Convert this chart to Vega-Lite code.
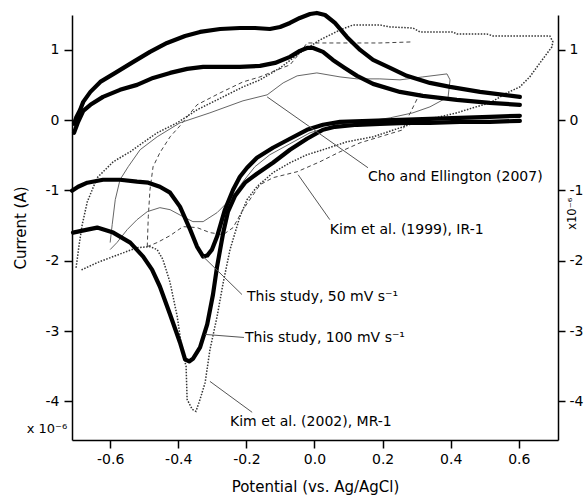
{
  "$schema": "https://vega.github.io/schema/vega-lite/v6.json",
  "width": 486,
  "height": 425,
  "autosize": {"type": "none"},
  "padding": {"left": 72, "top": 15, "right": 26, "bottom": 58},
  "config": {
    "view": {"stroke": null},
    "font": "DejaVu Sans",
    "text": {"font": "DejaVu Sans"},
    "axis": {
      "grid": false,
      "domainColor": "#000",
      "domainWidth": 1.5,
      "tickColor": "#000",
      "tickWidth": 1.5,
      "tickSize": 8,
      "labelColor": "#000",
      "labelFont": "DejaVu Sans",
      "labelFontSize": 14,
      "labelPadding": 4,
      "labelFlush": false,
      "labelOverlap": false,
      "titleFont": "DejaVu Sans",
      "titleFontSize": 15,
      "titleFontWeight": "normal",
      "titleColor": "#000"
    }
  },
  "datasets": {
    "curves": [
      {"s":"t100u","i":0,"x":-0.706,"y":-0.051},{"s":"t100u","i":1,"x":-0.700,"y":0.034},{"s":"t100u","i":2,"x":-0.688,"y":0.148},{"s":"t100u","i":3,"x":-0.679,"y":0.261},{"s":"t100u","i":4,"x":-0.658,"y":0.403},{"s":"t100u","i":5,"x":-0.629,"y":0.545},{"s":"t100u","i":6,"x":-0.585,"y":0.673},{"s":"t100u","i":7,"x":-0.532,"y":0.830},{"s":"t100u","i":8,"x":-0.483,"y":0.972},{"s":"t100u","i":9,"x":-0.433,"y":1.099},{"s":"t100u","i":10,"x":-0.380,"y":1.199},{"s":"t100u","i":11,"x":-0.336,"y":1.256},{"s":"t100u","i":12,"x":-0.277,"y":1.298},{"s":"t100u","i":13,"x":-0.219,"y":1.312},{"s":"t100u","i":14,"x":-0.175,"y":1.312},{"s":"t100u","i":15,"x":-0.131,"y":1.298},{"s":"t100u","i":16,"x":-0.101,"y":1.327},{"s":"t100u","i":17,"x":-0.072,"y":1.384},{"s":"t100u","i":18,"x":-0.043,"y":1.455},{"s":"t100u","i":19,"x":-0.013,"y":1.511},{"s":"t100u","i":20,"x":0.007,"y":1.526},{"s":"t100u","i":21,"x":0.031,"y":1.497},{"s":"t100u","i":22,"x":0.060,"y":1.384},{"s":"t100u","i":23,"x":0.095,"y":1.185},{"s":"t100u","i":24,"x":0.134,"y":1.000},{"s":"t100u","i":25,"x":0.172,"y":0.858},{"s":"t100u","i":26,"x":0.222,"y":0.744},{"s":"t100u","i":27,"x":0.271,"y":0.631},{"s":"t100u","i":28,"x":0.339,"y":0.531},{"s":"t100u","i":29,"x":0.398,"y":0.474},{"s":"t100u","i":30,"x":0.486,"y":0.403},{"s":"t100u","i":31,"x":0.603,"y":0.332},

      {"s":"t50u","i":0,"x":-0.706,"y":-0.179},{"s":"t50u","i":1,"x":-0.694,"y":-0.023},{"s":"t50u","i":2,"x":-0.679,"y":0.134},{"s":"t50u","i":3,"x":-0.658,"y":0.219},{"s":"t50u","i":4,"x":-0.621,"y":0.332},{"s":"t50u","i":5,"x":-0.571,"y":0.432},{"s":"t50u","i":6,"x":-0.521,"y":0.503},{"s":"t50u","i":7,"x":-0.474,"y":0.602},{"s":"t50u","i":8,"x":-0.424,"y":0.673},{"s":"t50u","i":9,"x":-0.374,"y":0.730},{"s":"t50u","i":10,"x":-0.327,"y":0.759},{"s":"t50u","i":11,"x":-0.277,"y":0.759},{"s":"t50u","i":12,"x":-0.219,"y":0.759},{"s":"t50u","i":13,"x":-0.160,"y":0.773},{"s":"t50u","i":14,"x":-0.116,"y":0.815},{"s":"t50u","i":15,"x":-0.072,"y":0.901},{"s":"t50u","i":16,"x":-0.043,"y":0.986},{"s":"t50u","i":17,"x":-0.022,"y":1.028},{"s":"t50u","i":18,"x":-0.004,"y":1.028},{"s":"t50u","i":19,"x":0.025,"y":0.972},{"s":"t50u","i":20,"x":0.054,"y":0.858},{"s":"t50u","i":21,"x":0.089,"y":0.744},{"s":"t50u","i":22,"x":0.125,"y":0.631},{"s":"t50u","i":23,"x":0.172,"y":0.517},{"s":"t50u","i":24,"x":0.251,"y":0.403},{"s":"t50u","i":25,"x":0.318,"y":0.347},{"s":"t50u","i":26,"x":0.418,"y":0.290},{"s":"t50u","i":27,"x":0.515,"y":0.247},{"s":"t50u","i":28,"x":0.603,"y":0.219},

      {"s":"t50l","i":0,"x":0.603,"y":0.063},{"s":"t50l","i":1,"x":0.515,"y":0.048},{"s":"t50l","i":2,"x":0.427,"y":0.034},{"s":"t50l","i":3,"x":0.339,"y":0.020},{"s":"t50l","i":4,"x":0.251,"y":0.006},{"s":"t50l","i":5,"x":0.163,"y":-0.009},{"s":"t50l","i":6,"x":0.075,"y":-0.023},{"s":"t50l","i":7,"x":0.025,"y":-0.065},{"s":"t50l","i":8,"x":-0.022,"y":-0.136},{"s":"t50l","i":9,"x":-0.072,"y":-0.264},{"s":"t50l","i":10,"x":-0.122,"y":-0.392},{"s":"t50l","i":11,"x":-0.169,"y":-0.534},{"s":"t50l","i":12,"x":-0.198,"y":-0.676},{"s":"t50l","i":13,"x":-0.219,"y":-0.804},{"s":"t50l","i":14,"x":-0.239,"y":-0.989},{"s":"t50l","i":15,"x":-0.263,"y":-1.273},{"s":"t50l","i":16,"x":-0.286,"y":-1.656},{"s":"t50l","i":17,"x":-0.301,"y":-1.841},{"s":"t50l","i":18,"x":-0.315,"y":-1.926},{"s":"t50l","i":19,"x":-0.327,"y":-1.940},{"s":"t50l","i":20,"x":-0.345,"y":-1.798},{"s":"t50l","i":21,"x":-0.365,"y":-1.557},{"s":"t50l","i":22,"x":-0.395,"y":-1.230},{"s":"t50l","i":23,"x":-0.424,"y":-1.031},{"s":"t50l","i":24,"x":-0.454,"y":-0.946},{"s":"t50l","i":25,"x":-0.488,"y":-0.889},{"s":"t50l","i":26,"x":-0.521,"y":-0.875},{"s":"t50l","i":27,"x":-0.571,"y":-0.847},{"s":"t50l","i":28,"x":-0.621,"y":-0.847},{"s":"t50l","i":29,"x":-0.667,"y":-0.889},{"s":"t50l","i":30,"x":-0.694,"y":-0.946},{"s":"t50l","i":31,"x":-0.712,"y":-1.003},

      {"s":"t100l","i":0,"x":0.603,"y":-0.009},{"s":"t100l","i":1,"x":0.515,"y":-0.023},{"s":"t100l","i":2,"x":0.427,"y":-0.023},{"s":"t100l","i":3,"x":0.339,"y":-0.037},{"s":"t100l","i":4,"x":0.271,"y":-0.037},{"s":"t100l","i":5,"x":0.192,"y":-0.051},{"s":"t100l","i":6,"x":0.125,"y":-0.065},{"s":"t100l","i":7,"x":0.060,"y":-0.094},{"s":"t100l","i":8,"x":0.025,"y":-0.136},{"s":"t100l","i":9,"x":-0.022,"y":-0.264},{"s":"t100l","i":10,"x":-0.072,"y":-0.420},{"s":"t100l","i":11,"x":-0.122,"y":-0.605},{"s":"t100l","i":12,"x":-0.169,"y":-0.761},{"s":"t100l","i":13,"x":-0.204,"y":-0.889},{"s":"t100l","i":14,"x":-0.233,"y":-1.074},{"s":"t100l","i":15,"x":-0.254,"y":-1.301},{"s":"t100l","i":16,"x":-0.268,"y":-1.599},{"s":"t100l","i":17,"x":-0.286,"y":-2.082},{"s":"t100l","i":18,"x":-0.298,"y":-2.480},{"s":"t100l","i":19,"x":-0.315,"y":-2.906},{"s":"t100l","i":20,"x":-0.336,"y":-3.233},{"s":"t100l","i":21,"x":-0.357,"y":-3.395},{"s":"t100l","i":22,"x":-0.368,"y":-3.432},{"s":"t100l","i":23,"x":-0.380,"y":-3.403},{"s":"t100l","i":24,"x":-0.395,"y":-3.162},{"s":"t100l","i":25,"x":-0.424,"y":-2.764},{"s":"t100l","i":26,"x":-0.454,"y":-2.366},{"s":"t100l","i":27,"x":-0.477,"y":-2.125},{"s":"t100l","i":28,"x":-0.503,"y":-1.940},{"s":"t100l","i":29,"x":-0.541,"y":-1.741},{"s":"t100l","i":30,"x":-0.591,"y":-1.599},{"s":"t100l","i":31,"x":-0.638,"y":-1.528},{"s":"t100l","i":32,"x":-0.667,"y":-1.557},{"s":"t100l","i":33,"x":-0.709,"y":-1.599},

      {"s":"cho","i":0,"x":-0.600,"y":-1.741},{"s":"cho","i":1,"x":-0.594,"y":-1.486},{"s":"cho","i":2,"x":-0.585,"y":-1.131},{"s":"cho","i":3,"x":-0.571,"y":-0.847},{"s":"cho","i":4,"x":-0.547,"y":-0.662},{"s":"cho","i":5,"x":-0.512,"y":-0.420},{"s":"cho","i":6,"x":-0.462,"y":-0.236},{"s":"cho","i":7,"x":-0.395,"y":-0.037},{"s":"cho","i":8,"x":-0.307,"y":0.105},{"s":"cho","i":9,"x":-0.210,"y":0.276},{"s":"cho","i":10,"x":-0.139,"y":0.361},{"s":"cho","i":11,"x":-0.092,"y":0.531},{"s":"cho","i":12,"x":-0.051,"y":0.631},{"s":"cho","i":13,"x":0.007,"y":0.673},{"s":"cho","i":14,"x":0.075,"y":0.616},{"s":"cho","i":15,"x":0.125,"y":0.588},{"s":"cho","i":16,"x":0.192,"y":0.588},{"s":"cho","i":17,"x":0.251,"y":0.574},{"s":"cho","i":18,"x":0.318,"y":0.616},{"s":"cho","i":19,"x":0.389,"y":0.659},{"s":"cho","i":20,"x":0.398,"y":0.574},{"s":"cho","i":21,"x":0.392,"y":0.318},{"s":"cho","i":22,"x":0.377,"y":0.290},{"s":"cho","i":23,"x":0.339,"y":0.190},{"s":"cho","i":24,"x":0.289,"y":0.105},{"s":"cho","i":25,"x":0.222,"y":0.034},{"s":"cho","i":26,"x":0.163,"y":-0.009},{"s":"cho","i":27,"x":0.075,"y":-0.051},{"s":"cho","i":28,"x":-0.013,"y":-0.179},{"s":"cho","i":29,"x":-0.072,"y":-0.335},{"s":"cho","i":30,"x":-0.131,"y":-0.491},{"s":"cho","i":31,"x":-0.175,"y":-0.662},{"s":"cho","i":32,"x":-0.210,"y":-0.875},{"s":"cho","i":33,"x":-0.248,"y":-1.131},{"s":"cho","i":34,"x":-0.286,"y":-1.315},{"s":"cho","i":35,"x":-0.327,"y":-1.443},{"s":"cho","i":36,"x":-0.357,"y":-1.443},{"s":"cho","i":37,"x":-0.386,"y":-1.372},{"s":"cho","i":38,"x":-0.424,"y":-1.273},{"s":"cho","i":39,"x":-0.454,"y":-1.244},{"s":"cho","i":40,"x":-0.491,"y":-1.301},{"s":"cho","i":41,"x":-0.521,"y":-1.415},{"s":"cho","i":42,"x":-0.550,"y":-1.557},{"s":"cho","i":43,"x":-0.580,"y":-1.741},{"s":"cho","i":44,"x":-0.600,"y":-1.841},

      {"s":"kim99u","i":0,"x":-0.491,"y":-1.798},{"s":"kim99u","i":1,"x":-0.488,"y":-1.372},{"s":"kim99u","i":2,"x":-0.483,"y":-0.989},{"s":"kim99u","i":3,"x":-0.474,"y":-0.662},{"s":"kim99u","i":4,"x":-0.454,"y":-0.463},{"s":"kim99u","i":5,"x":-0.424,"y":-0.236},{"s":"kim99u","i":6,"x":-0.395,"y":-0.080},{"s":"kim99u","i":7,"x":-0.345,"y":0.219},{"s":"kim99u","i":8,"x":-0.277,"y":0.389},{"s":"kim99u","i":9,"x":-0.210,"y":0.545},{"s":"kim99u","i":10,"x":-0.160,"y":0.616},{"s":"kim99u","i":11,"x":-0.110,"y":0.716},{"s":"kim99u","i":12,"x":-0.072,"y":0.787},{"s":"kim99u","i":13,"x":-0.043,"y":0.957},{"s":"kim99u","i":14,"x":-0.022,"y":1.099},{"s":"kim99u","i":15,"x":0.075,"y":1.099},{"s":"kim99u","i":16,"x":0.192,"y":1.099},{"s":"kim99u","i":17,"x":0.286,"y":1.114},

      {"s":"kim99l","i":0,"x":0.310,"y":0.389},{"s":"kim99l","i":1,"x":0.274,"y":0.034},{"s":"kim99l","i":2,"x":0.260,"y":-0.136},{"s":"kim99l","i":3,"x":0.192,"y":-0.236},{"s":"kim99l","i":4,"x":0.134,"y":-0.321},{"s":"kim99l","i":5,"x":0.075,"y":-0.449},{"s":"kim99l","i":6,"x":0.016,"y":-0.591},{"s":"kim99l","i":7,"x":-0.051,"y":-0.733},{"s":"kim99l","i":8,"x":-0.122,"y":-0.818},{"s":"kim99l","i":9,"x":-0.160,"y":-0.918},{"s":"kim99l","i":10,"x":-0.210,"y":-1.273},{"s":"kim99l","i":11,"x":-0.239,"y":-1.528},{"s":"kim99l","i":12,"x":-0.268,"y":-1.628},{"s":"kim99l","i":13,"x":-0.307,"y":-1.599},{"s":"kim99l","i":14,"x":-0.345,"y":-1.528},{"s":"kim99l","i":15,"x":-0.386,"y":-1.514},{"s":"kim99l","i":16,"x":-0.424,"y":-1.642},{"s":"kim99l","i":17,"x":-0.462,"y":-1.741},{"s":"kim99l","i":18,"x":-0.491,"y":-1.798},

      {"s":"kim02","i":0,"x":-0.700,"y":-2.099},{"s":"kim02","i":1,"x":-0.691,"y":-1.770},{"s":"kim02","i":2,"x":-0.682,"y":-1.486},{"s":"kim02","i":3,"x":-0.667,"y":-1.159},{"s":"kim02","i":4,"x":-0.638,"y":-0.818},{"s":"kim02","i":5,"x":-0.591,"y":-0.591},{"s":"kim02","i":6,"x":-0.541,"y":-0.449},{"s":"kim02","i":7,"x":-0.521,"y":-0.378},{"s":"kim02","i":8,"x":-0.462,"y":-0.179},{"s":"kim02","i":9,"x":-0.403,"y":-0.037},{"s":"kim02","i":10,"x":-0.345,"y":0.148},{"s":"kim02","i":11,"x":-0.286,"y":0.290},{"s":"kim02","i":12,"x":-0.210,"y":0.474},{"s":"kim02","i":13,"x":-0.160,"y":0.574},{"s":"kim02","i":14,"x":-0.101,"y":0.744},{"s":"kim02","i":15,"x":-0.043,"y":0.957},{"s":"kim02","i":16,"x":0.016,"y":1.142},{"s":"kim02","i":17,"x":0.075,"y":1.284},{"s":"kim02","i":18,"x":0.113,"y":1.355},{"s":"kim02","i":19,"x":0.192,"y":1.355},{"s":"kim02","i":20,"x":0.222,"y":1.327},{"s":"kim02","i":21,"x":0.289,"y":1.312},{"s":"kim02","i":22,"x":0.310,"y":1.256},{"s":"kim02","i":23,"x":0.406,"y":1.256},{"s":"kim02","i":24,"x":0.418,"y":1.227},{"s":"kim02","i":25,"x":0.506,"y":1.227},{"s":"kim02","i":26,"x":0.524,"y":1.199},{"s":"kim02","i":27,"x":0.691,"y":1.199},{"s":"kim02","i":28,"x":0.700,"y":1.114},{"s":"kim02","i":29,"x":0.697,"y":1.043},{"s":"kim02","i":30,"x":0.662,"y":0.815},{"s":"kim02","i":31,"x":0.632,"y":0.616},{"s":"kim02","i":32,"x":0.603,"y":0.474},{"s":"kim02","i":33,"x":0.565,"y":0.389},{"s":"kim02","i":34,"x":0.515,"y":0.247},{"s":"kim02","i":35,"x":0.465,"y":0.176},{"s":"kim02","i":36,"x":0.418,"y":0.105},{"s":"kim02","i":37,"x":0.368,"y":0.048},{"s":"kim02","i":38,"x":0.318,"y":0.006},{"s":"kim02","i":39,"x":0.260,"y":-0.094},{"s":"kim02","i":40,"x":0.172,"y":-0.236},{"s":"kim02","i":41,"x":0.095,"y":-0.307},{"s":"kim02","i":42,"x":0.025,"y":-0.420},{"s":"kim02","i":43,"x":-0.022,"y":-0.491},{"s":"kim02","i":44,"x":-0.072,"y":-0.605},{"s":"kim02","i":45,"x":-0.122,"y":-0.747},{"s":"kim02","i":46,"x":-0.169,"y":-0.946},{"s":"kim02","i":47,"x":-0.198,"y":-1.131},{"s":"kim02","i":48,"x":-0.219,"y":-1.372},{"s":"kim02","i":49,"x":-0.248,"y":-1.841},{"s":"kim02","i":50,"x":-0.268,"y":-2.310},{"s":"kim02","i":51,"x":-0.286,"y":-2.793},{"s":"kim02","i":52,"x":-0.307,"y":-3.267},{"s":"kim02","i":53,"x":-0.321,"y":-3.730},{"s":"kim02","i":54,"x":-0.336,"y":-3.972},{"s":"kim02","i":55,"x":-0.348,"y":-4.142},{"s":"kim02","i":56,"x":-0.359,"y":-4.114},{"s":"kim02","i":57,"x":-0.374,"y":-3.972},{"s":"kim02","i":58,"x":-0.377,"y":-3.503},{"s":"kim02","i":59,"x":-0.389,"y":-3.267},{"s":"kim02","i":60,"x":-0.403,"y":-2.793},{"s":"kim02","i":61,"x":-0.424,"y":-2.310},{"s":"kim02","i":62,"x":-0.445,"y":-1.983},{"s":"kim02","i":63,"x":-0.462,"y":-1.841},{"s":"kim02","i":64,"x":-0.483,"y":-1.798},{"s":"kim02","i":65,"x":-0.521,"y":-1.813},{"s":"kim02","i":66,"x":-0.591,"y":-1.940},{"s":"kim02","i":67,"x":-0.638,"y":-2.026},{"s":"kim02","i":68,"x":-0.688,"y":-2.139}
    ],
    "leaders": [
      {"x":-0.139,"y":0.332,"x2":0.157,"y2":-0.676},
      {"x":-0.048,"y":-0.776,"x2":0.045,"y2":-1.415},
      {"x":-0.327,"y":-1.940,"x2":-0.213,"y2":-2.480},
      {"x":-0.321,"y":-3.048,"x2":-0.207,"y2":-3.091},
      {"x":-0.307,"y":-3.716,"x2":-0.183,"y2":-4.156}
    ],
    "notes": [
      {"x":0.157,"y":-0.804,"label":"Cho and Ellington (2007)"},
      {"x":0.045,"y":-1.557,"label":"Kim et al. (1999), IR-1"},
      {"x":-0.198,"y":-2.509,"label":"This study, 50 mV s⁻¹"},
      {"x":-0.204,"y":-3.105,"label":"This study, 100 mV s⁻¹"},
      {"x":-0.248,"y":-4.298,"label":"Kim et al. (2002), MR-1"}
    ],
    "small": [
      {"x":-0.845,"y":-4.398,"label":"x 10⁻⁶"}
    ],
    "side": [
      {"x":0.759,"y":-1.33,"label":"x10⁻⁶"}
    ]
  },
  "layer": [
    {
      "encoding": {
        "x": {
          "field": "x", "type": "quantitative",
          "scale": {"domain": [-0.712, 0.715], "nice": false, "zero": false},
          "axis": {
            "title": "Potential (vs. Ag/AgCl)",
            "orient": "bottom",
            "values": [-0.6, -0.4, -0.2, 0, 0.2, 0.4, 0.6],
            "labelExpr": "replace(format(datum.value, '.1f'), '\u2212', '-')",
            "titlePadding": 13
          }
        },
        "y": {
          "field": "y", "type": "quantitative",
          "scale": {"domain": [-4.55, 1.497], "nice": false, "zero": false},
          "axis": {
            "title": "Current (A)",
            "orient": "left",
            "values": [-4, -3, -2, -1, 0, 1],
            "labelExpr": "replace(format(datum.value, 'd'), '\u2212', '-')",
            "labelPadding": 5,
            "titlePadding": 17
          }
        }
      },
      "layer": [
        {
          "data": {"name": "curves"},
          "transform": [{"filter": "datum.s === 'kim02'"}],
          "mark": {"type": "line", "stroke": "#333", "strokeWidth": 1.5, "strokeDash": [1.5, 1.5]},
          "encoding": {"order": {"field": "i", "type": "quantitative"}}
        },
        {
          "data": {"name": "curves"},
          "transform": [{"filter": "datum.s === 'kim99u' || datum.s === 'kim99l'"}],
          "mark": {"type": "line", "stroke": "#444", "strokeWidth": 1, "strokeDash": [4, 3]},
          "encoding": {"detail": {"field": "s"}, "order": {"field": "i", "type": "quantitative"}}
        },
        {
          "data": {"name": "curves"},
          "transform": [{"filter": "datum.s === 'cho'"}],
          "mark": {"type": "line", "stroke": "#666", "strokeWidth": 1},
          "encoding": {"order": {"field": "i", "type": "quantitative"}}
        },
        {
          "data": {"name": "curves"},
          "transform": [{"filter": "indexof(['t100u','t100l','t50u','t50l'], datum.s) >= 0"}],
          "mark": {"type": "line", "stroke": "#000", "strokeWidth": 4.2, "strokeJoin": "round", "strokeCap": "round"},
          "encoding": {"detail": {"field": "s"}, "order": {"field": "i", "type": "quantitative"}}
        },
        {
          "data": {"name": "leaders"},
          "mark": {"type": "rule", "stroke": "#555", "strokeWidth": 1},
          "encoding": {"x2": {"field": "x2"}, "y2": {"field": "y2"}}
        },
        {
          "data": {"name": "notes"},
          "mark": {"type": "text", "align": "left", "baseline": "middle", "fontSize": 14, "font": "DejaVu Sans", "color": "#000"},
          "encoding": {"text": {"field": "label"}}
        },
        {
          "data": {"name": "small"},
          "mark": {"type": "text", "align": "left", "baseline": "middle", "fontSize": 13, "font": "DejaVu Sans", "color": "#000"},
          "encoding": {"text": {"field": "label"}}
        }
      ]
    },
    {
      "data": {"name": "side"},
      "mark": {"type": "text", "align": "center", "baseline": "middle", "angle": 270, "fontSize": 11.5, "font": "DejaVu Sans", "color": "#000"},
      "encoding": {
        "x": {
          "field": "x", "type": "quantitative",
          "scale": {"domain": [-0.712, 0.715], "nice": false, "zero": false},
          "axis": {
            "title": "Potential (vs. Ag/AgCl)",
            "orient": "bottom",
            "values": [-0.6, -0.4, -0.2, 0, 0.2, 0.4, 0.6],
            "labelExpr": "replace(format(datum.value, '.1f'), '\u2212', '-')",
            "titlePadding": 13
          }
        },
        "y": {
          "field": "y", "type": "quantitative",
          "scale": {"domain": [-4.55, 1.497], "nice": false, "zero": false},
          "axis": {
            "orient": "right",
            "title": null,
            "values": [-4, -3, -2, -1, 0, 1],
            "labelExpr": "replace(format(datum.value, 'd'), '\u2212', '-')",
            "tickSize": 7
          }
        },
        "text": {"field": "label"}
      }
    }
  ],
  "resolve": {"axis": {"y": "independent"}}
}
